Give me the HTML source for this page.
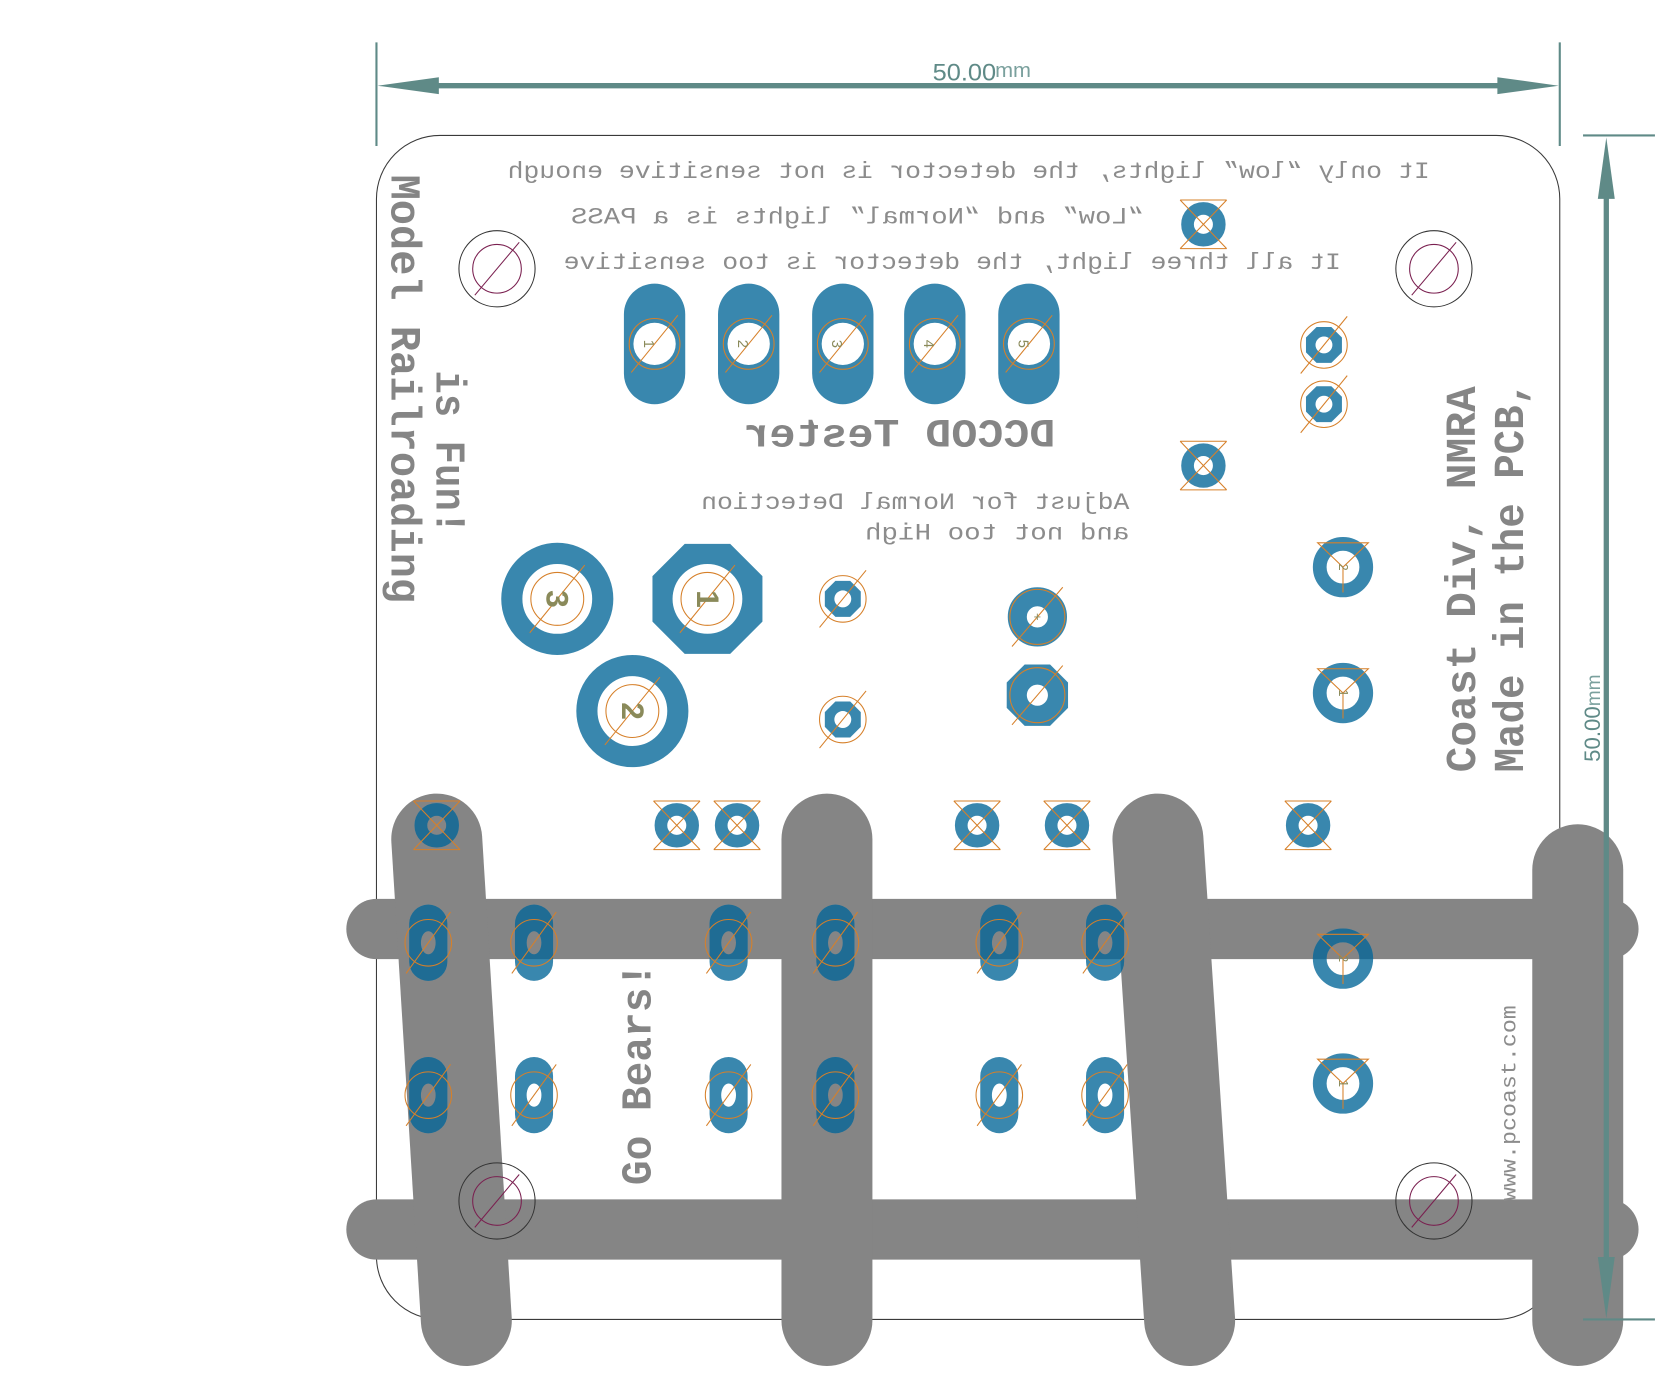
<!DOCTYPE html>
<html><head><meta charset="utf-8"><style>
html,body{margin:0;padding:0;background:#fff;}
svg{display:block;font-family:"Liberation Mono",monospace;}
</style></head><body>
<svg width="1656" height="1384" viewBox="0 0 1566 1308" preserveAspectRatio="none" xmlns="http://www.w3.org/2000/svg">
<defs>
<g id="bars" stroke-linecap="round" fill="none">
  <line x1="356" y1="878" x2="1521" y2="878" stroke-width="57"/>
  <line x1="356" y1="1162" x2="1521" y2="1162" stroke-width="57"/>
  <line x1="413" y1="793" x2="441" y2="1248" stroke-width="86"/>
  <line x1="782" y1="793" x2="782" y2="1248" stroke-width="86"/>
  <line x1="1095" y1="793" x2="1125" y2="1248" stroke-width="86"/>
  <line x1="1492" y1="822" x2="1492" y2="1248" stroke-width="86"/>
</g>
<mask id="bm" maskUnits="userSpaceOnUse" x="0" y="0" width="1566" height="1308">
  <use href="#bars" stroke="#fff"/>
</mask>
<g id="pads">
  <path fill-rule="evenodd" fill="currentColor" d="M590,297 a29,29 0 0,1 58,0 v56 a29,29 0 0,1 -58,0 z M599,325 a20,20 0 1,0 40,0 a20,20 0 1,0 -40,0"/>
  <path fill-rule="evenodd" fill="currentColor" d="M679,297 a29,29 0 0,1 58,0 v56 a29,29 0 0,1 -58,0 z M688,325 a20,20 0 1,0 40,0 a20,20 0 1,0 -40,0"/>
  <path fill-rule="evenodd" fill="currentColor" d="M768,297 a29,29 0 0,1 58,0 v56 a29,29 0 0,1 -58,0 z M777,325 a20,20 0 1,0 40,0 a20,20 0 1,0 -40,0"/>
  <path fill-rule="evenodd" fill="currentColor" d="M855,297 a29,29 0 0,1 58,0 v56 a29,29 0 0,1 -58,0 z M864,325 a20,20 0 1,0 40,0 a20,20 0 1,0 -40,0"/>
  <path fill-rule="evenodd" fill="currentColor" d="M944,297 a29,29 0 0,1 58,0 v56 a29,29 0 0,1 -58,0 z M953,325 a20,20 0 1,0 40,0 a20,20 0 1,0 -40,0"/>
  <circle cx="527" cy="566" r="43" fill="none" stroke="currentColor" stroke-width="20"/>
  <circle cx="598" cy="672" r="43" fill="none" stroke="currentColor" stroke-width="20"/>
  <path fill-rule="evenodd" fill="currentColor" d="M647.5,514 L690.5,514 L721,544.5 L721,587.5 L690.5,618 L647.5,618 L617,587.5 L617,544.5 Z M636,566 a33,33 0 1,0 66,0 a33,33 0 1,0 -66,0"/>
  <path fill-rule="evenodd" fill="currentColor" d="M790,549 L804,549 L814,559 L814,573 L804,583 L790,583 L780,573 L780,559 Z M789,566 a8,8 0 1,0 16,0 a8,8 0 1,0 -16,0"/>
  <path fill-rule="evenodd" fill="currentColor" d="M790,663 L804,663 L814,673 L814,687 L804,697 L790,697 L780,687 L780,673 Z M789,680 a8,8 0 1,0 16,0 a8,8 0 1,0 -16,0"/>
  <path fill-rule="evenodd" fill="currentColor" d="M1245,309 L1259,309 L1269,319 L1269,333 L1259,343 L1245,343 L1235,333 L1235,319 Z M1244,326 a8,8 0 1,0 16,0 a8,8 0 1,0 -16,0"/>
  <path fill-rule="evenodd" fill="currentColor" d="M1245,365 L1259,365 L1269,375 L1269,389 L1259,399 L1245,399 L1235,389 L1235,375 Z M1244,382 a8,8 0 1,0 16,0 a8,8 0 1,0 -16,0"/>
  <path fill-rule="evenodd" fill="currentColor" d="M969,628 L993,628 L1010,645 L1010,669 L993,686 L969,686 L952,669 L952,645 Z M971,657 a10,10 0 1,0 20,0 a10,10 0 1,0 -20,0"/>
  <circle cx="981" cy="583" r="19" fill="none" stroke="currentColor" stroke-width="18"/>
  <g fill="none" stroke="currentColor" stroke-width="12">
    <circle cx="1138" cy="212" r="15"/><circle cx="1138" cy="440" r="15"/>
    <circle cx="413" cy="780" r="15"/><circle cx="640" cy="780" r="15"/><circle cx="697" cy="780" r="15"/>
    <circle cx="924" cy="780" r="15"/><circle cx="1009" cy="780" r="15"/><circle cx="1237" cy="780" r="15"/>
  </g>
  <g fill="none" stroke="currentColor" stroke-width="13">
    <circle cx="1270" cy="536" r="22"/><circle cx="1270" cy="655" r="22"/>
    <circle cx="1270" cy="906" r="22"/><circle cx="1270" cy="1024" r="22"/>
  </g>
  <path fill-rule="evenodd" fill="currentColor" d="
   M387,873 a18,18 0 0,1 36,0 v36 a18,18 0 0,1 -36,0 z M398,891 a7,11 0 1,0 14,0 a7,11 0 1,0 -14,0
   M487,873 a18,18 0 0,1 36,0 v36 a18,18 0 0,1 -36,0 z M498,891 a7,11 0 1,0 14,0 a7,11 0 1,0 -14,0
   M671,873 a18,18 0 0,1 36,0 v36 a18,18 0 0,1 -36,0 z M682,891 a7,11 0 1,0 14,0 a7,11 0 1,0 -14,0
   M772,873 a18,18 0 0,1 36,0 v36 a18,18 0 0,1 -36,0 z M783,891 a7,11 0 1,0 14,0 a7,11 0 1,0 -14,0
   M927,873 a18,18 0 0,1 36,0 v36 a18,18 0 0,1 -36,0 z M938,891 a7,11 0 1,0 14,0 a7,11 0 1,0 -14,0
   M1027,873 a18,18 0 0,1 36,0 v36 a18,18 0 0,1 -36,0 z M1038,891 a7,11 0 1,0 14,0 a7,11 0 1,0 -14,0
   M387,1017 a18,18 0 0,1 36,0 v36 a18,18 0 0,1 -36,0 z M398,1035 a7,11 0 1,0 14,0 a7,11 0 1,0 -14,0
   M487,1017 a18,18 0 0,1 36,0 v36 a18,18 0 0,1 -36,0 z M498,1035 a7,11 0 1,0 14,0 a7,11 0 1,0 -14,0
   M671,1017 a18,18 0 0,1 36,0 v36 a18,18 0 0,1 -36,0 z M682,1035 a7,11 0 1,0 14,0 a7,11 0 1,0 -14,0
   M772,1017 a18,18 0 0,1 36,0 v36 a18,18 0 0,1 -36,0 z M783,1035 a7,11 0 1,0 14,0 a7,11 0 1,0 -14,0
   M927,1017 a18,18 0 0,1 36,0 v36 a18,18 0 0,1 -36,0 z M938,1035 a7,11 0 1,0 14,0 a7,11 0 1,0 -14,0
   M1027,1017 a18,18 0 0,1 36,0 v36 a18,18 0 0,1 -36,0 z M1038,1035 a7,11 0 1,0 14,0 a7,11 0 1,0 -14,0"/>
</g>
</defs>

<rect x="356" y="128" width="1119" height="1119" rx="60" ry="60" fill="none" stroke="#3a3a3a" stroke-width="1"/>

<use href="#bars" stroke="#858585"/>

<use href="#pads" style="color:#3987ae"/>
<use href="#pads" style="color:#1f6c94" mask="url(#bm)"/>

<g fill="none" stroke-width="1">
  <g stroke="#333"><circle cx="470" cy="254" r="36"/><circle cx="1356" cy="254" r="36"/><circle cx="470" cy="1135" r="36"/><circle cx="1356" cy="1135" r="36"/></g>
  <g stroke="#7a2050"><circle cx="470" cy="254" r="23"/><circle cx="1356" cy="254" r="23"/><circle cx="470" cy="1135" r="23"/><circle cx="1356" cy="1135" r="23"/>
  <line x1="449" y1="279" x2="491" y2="229"/><line x1="1335" y1="279" x2="1377" y2="229"/>
  <line x1="449" y1="1160" x2="491" y2="1110"/><line x1="1335" y1="1160" x2="1377" y2="1110"/></g>
</g>

<g fill="none" stroke="#d6802a" stroke-width="1">
  <circle cx="619" cy="325" r="24"/><line x1="597" y1="352" x2="641" y2="298"/>
  <circle cx="708" cy="325" r="24"/><line x1="686" y1="352" x2="730" y2="298"/>
  <circle cx="797" cy="325" r="24"/><line x1="775" y1="352" x2="819" y2="298"/>
  <circle cx="884" cy="325" r="24"/><line x1="862" y1="352" x2="906" y2="298"/>
  <circle cx="973" cy="325" r="24"/><line x1="951" y1="352" x2="995" y2="298"/>
  <circle cx="527" cy="566" r="25"/><line x1="501" y1="598" x2="553" y2="534"/>
  <circle cx="669" cy="566" r="25"/><line x1="643" y1="598" x2="695" y2="534"/>
  <circle cx="598" cy="672" r="25"/><line x1="572" y1="704" x2="624" y2="640"/>
  <circle cx="797" cy="566" r="22"/><line x1="775" y1="593" x2="819" y2="539"/>
  <circle cx="797" cy="680" r="22"/><line x1="775" y1="707" x2="819" y2="653"/>
  <circle cx="1252" cy="326" r="22"/><line x1="1230" y1="353" x2="1274" y2="299"/>
  <circle cx="1252" cy="382" r="22"/><line x1="1230" y1="409" x2="1274" y2="355"/>
  <circle cx="981" cy="583" r="26"/><line x1="957" y1="611" x2="1005" y2="555"/>
  <circle cx="981" cy="657" r="26"/><line x1="957" y1="685" x2="1005" y2="629"/>
  <path d="M1116,189 h44 M1116,235 h44 M1116,189 L1160,235 M1160,189 L1116,235"/>
  <path d="M1116,417 h44 M1116,463 h44 M1116,417 L1160,463 M1160,417 L1116,463"/>
  <path d="M391,757 h44 M391,803 h44 M391,757 L435,803 M435,757 L391,803"/>
  <path d="M618,757 h44 M618,803 h44 M618,757 L662,803 M662,757 L618,803"/>
  <path d="M675,757 h44 M675,803 h44 M675,757 L719,803 M719,757 L675,803"/>
  <path d="M902,757 h44 M902,803 h44 M902,757 L946,803 M946,757 L902,803"/>
  <path d="M987,757 h44 M987,803 h44 M987,757 L1031,803 M1031,757 L987,803"/>
  <path d="M1215,757 h44 M1215,803 h44 M1215,757 L1259,803 M1259,757 L1215,803"/>
  <path d="M1246,513 h48 L1270,536 Z M1270,536 v24"/>
  <path d="M1246,632 h48 L1270,655 Z M1270,655 v24"/>
  <path d="M1246,883 h48 L1270,906 Z M1270,906 v24"/>
  <path d="M1246,1001 h48 L1270,1024 Z M1270,1024 v24"/>
  <circle cx="405" cy="891" r="22"/><line x1="384" y1="920" x2="426" y2="862"/>
  <circle cx="505" cy="891" r="22"/><line x1="484" y1="920" x2="526" y2="862"/>
  <circle cx="689" cy="891" r="22"/><line x1="668" y1="920" x2="710" y2="862"/>
  <circle cx="790" cy="891" r="22"/><line x1="769" y1="920" x2="811" y2="862"/>
  <circle cx="945" cy="891" r="22"/><line x1="924" y1="920" x2="966" y2="862"/>
  <circle cx="1045" cy="891" r="22"/><line x1="1024" y1="920" x2="1066" y2="862"/>
  <circle cx="405" cy="1035" r="22"/><line x1="384" y1="1064" x2="426" y2="1006"/>
  <circle cx="505" cy="1035" r="22"/><line x1="484" y1="1064" x2="526" y2="1006"/>
  <circle cx="689" cy="1035" r="22"/><line x1="668" y1="1064" x2="710" y2="1006"/>
  <circle cx="790" cy="1035" r="22"/><line x1="769" y1="1064" x2="811" y2="1006"/>
  <circle cx="945" cy="1035" r="22"/><line x1="924" y1="1064" x2="966" y2="1006"/>
  <circle cx="1045" cy="1035" r="22"/><line x1="1024" y1="1064" x2="1066" y2="1006"/>
</g>

<g fill="#8a8a5a" font-family="Liberation Sans, sans-serif">
  <g font-size="14">
  <text transform="translate(614,325) rotate(90)" text-anchor="middle" dy="5">1</text>
  <text transform="translate(703,325) rotate(90)" text-anchor="middle" dy="5">2</text>
  <text transform="translate(792,325) rotate(90)" text-anchor="middle" dy="5">3</text>
  <text transform="translate(879,325) rotate(90)" text-anchor="middle" dy="5">4</text>
  <text transform="translate(968,325) rotate(90)" text-anchor="middle" dy="5">5</text>
  </g>
  <g font-size="30" font-weight="bold">
  <text transform="translate(527,566) rotate(90)" text-anchor="middle" dy="10">3</text>
  <text transform="translate(669,566) rotate(90)" text-anchor="middle" dy="10">1</text>
  <text transform="translate(598,672) rotate(90)" text-anchor="middle" dy="10">2</text>
  </g>
  <g font-size="12">
  <text x="981" y="587" text-anchor="middle">+</text>
  <text transform="translate(1270,536) rotate(90)" text-anchor="middle" dy="4">2</text>
  <text transform="translate(1270,655) rotate(90)" text-anchor="middle" dy="4">1</text>
  <text transform="translate(1270,906) rotate(90)" text-anchor="middle" dy="4">2</text>
  <text transform="translate(1270,1024) rotate(90)" text-anchor="middle" dy="4">1</text>
  </g>
</g>

<g fill="#8c8c8c">
  <text transform="translate(1352,168) scale(-1,1)" font-size="22" textLength="872" lengthAdjust="spacingAndGlyphs">It only “low” lights, the detector is not sensitive enough</text>
  <text transform="translate(1082,211) scale(-1,1)" font-size="22" textLength="542" lengthAdjust="spacingAndGlyphs">“Low” and “Normal” lights is a PASS</text>
  <text transform="translate(1268,254) scale(-1,1)" font-size="22" textLength="735" lengthAdjust="spacingAndGlyphs">It  all three light, the detector is too sensitive</text>
  <text transform="translate(998,422) scale(-1,1)" font-size="38" font-weight="bold" textLength="295" lengthAdjust="spacingAndGlyphs" fill="#858585">DCCOD Tester</text>
  <text transform="translate(1068,481) scale(-1,1)" font-size="22" textLength="405" lengthAdjust="spacingAndGlyphs">Adjust for Normal Detection</text>
  <text transform="translate(1068,510) scale(-1,1)" font-size="22" textLength="250" lengthAdjust="spacingAndGlyphs">and not too High</text>
  <g fill="#858585" font-weight="bold">
  <text transform="translate(370,165) rotate(90)" font-size="40" textLength="405" lengthAdjust="spacingAndGlyphs">Model Railroading</text>
  <text transform="translate(413,350) rotate(90)" font-size="40" textLength="155" lengthAdjust="spacingAndGlyphs">is Fun!</text>
  <text transform="translate(1440,730) rotate(-90)" font-size="40" textLength="370" lengthAdjust="spacingAndGlyphs">Made in the PCB,</text>
  <text transform="translate(1395,730) rotate(-90)" font-size="40" textLength="365" lengthAdjust="spacingAndGlyphs">Coast Div, NMRA</text>
  <text transform="translate(615,1120) rotate(-90)" font-size="40" textLength="210" lengthAdjust="spacingAndGlyphs">Go Bears!</text>
  </g>
  <text transform="translate(1433,1135) rotate(-90)" font-size="20" textLength="185" lengthAdjust="spacingAndGlyphs">www.pcoast.com</text>
</g>

<g stroke="#5f8a87" fill="#5f8a87">
  <line x1="356" y1="40" x2="356" y2="138" stroke-width="2"/>
  <line x1="1475" y1="40" x2="1475" y2="138" stroke-width="2"/>
  <line x1="410" y1="81" x2="1420" y2="81" stroke-width="5"/>
  <polygon points="357,81 415,73 415,89" stroke="none"/>
  <polygon points="1474,81 1416,73 1416,89" stroke="none"/>
  <line x1="1497" y1="128" x2="1565" y2="128" stroke-width="2"/>
  <line x1="1497" y1="1247" x2="1565" y2="1247" stroke-width="2"/>
  <line x1="1519" y1="180" x2="1519" y2="1195" stroke-width="5"/>
  <polygon points="1519,130 1511,188 1527,188" stroke="none"/>
  <polygon points="1519,1246 1511,1188 1527,1188" stroke="none"/>
</g>
<g fill="#5f8a87" font-family="Liberation Sans, sans-serif">
  <text x="882" y="76" font-size="23" textLength="60" lengthAdjust="spacingAndGlyphs">50.00</text>
  <text x="941" y="73" font-size="19" fill="#7aa09d" textLength="34" lengthAdjust="spacingAndGlyphs">mm</text>
  <text transform="translate(1513,720) rotate(-90)" font-size="21">50.00<tspan fill="#7aa09d" font-size="18">mm</tspan></text>
</g>
</svg>
</body></html>
